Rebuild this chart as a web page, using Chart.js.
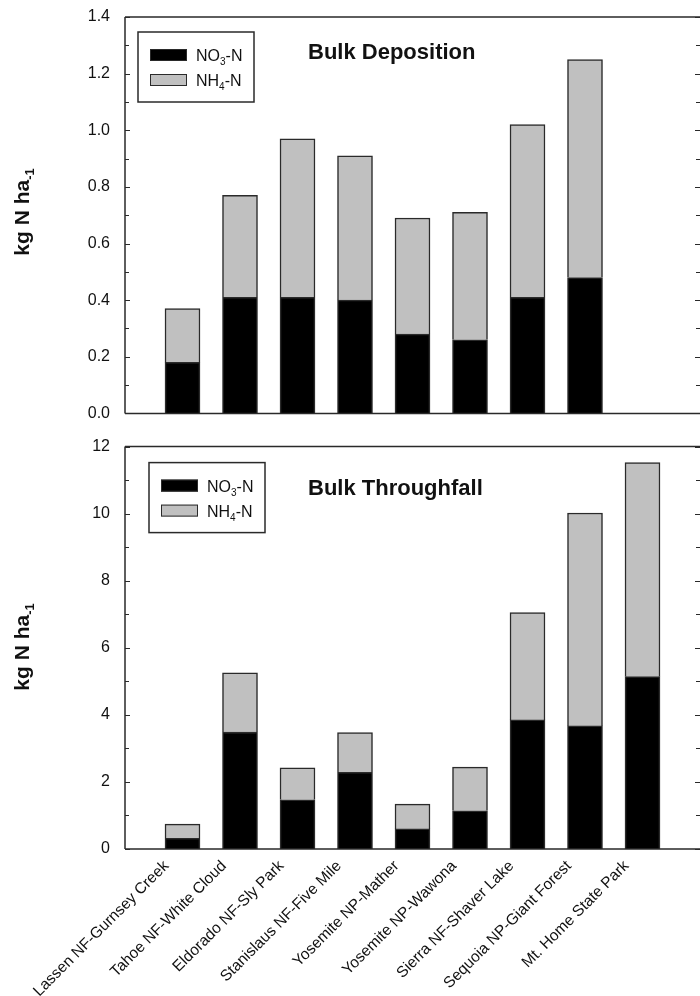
<!DOCTYPE html>
<html>
<head>
<meta charset="utf-8">
<script src="https://cdn.jsdelivr.net/npm/chart.js@4.4.1/dist/chart.umd.min.js"></script>
<style>
  body { margin: 0; background: #fff; }
  canvas { position: absolute; left: 0; }
  #depChart { top: 0; }
  #tfChart { top: 430px; }
</style>
</head>
<body>
<canvas id="depChart" width="700" height="430"></canvas>
<canvas id="tfChart" width="700" height="566"></canvas>
<script>
const sites = [
  "Lassen NF-Gurnsey Creek", "Tahoe NF-White Cloud", "Eldorado NF-Sly Park",
  "Stanislaus NF-Five Mile", "Yosemite NP-Mather", "Yosemite NP-Wawona",
  "Sierra NF-Shaver Lake", "Sequoia NP-Giant Forest", "Mt. Home State Park"
];

// bulk deposition (kg N / ha), no sample at Mt. Home
const depNO3 = [0.18, 0.41, 0.41, 0.40, 0.28, 0.26, 0.41, 0.48, null];
const depNH4 = [0.19, 0.36, 0.56, 0.51, 0.41, 0.45, 0.61, 0.77, null];

// bulk throughfall (kg N / ha)
const tfNO3 = [0.32, 3.49, 1.47, 2.29, 0.60, 1.14, 3.85, 3.67, 5.14];
const tfNH4 = [0.42, 1.76, 0.95, 1.18, 0.74, 1.30, 3.20, 6.35, 6.38];

const depTicks = { min: 0, max: 1.4, step: 0.1 };
const tfTicks = { min: 0, max: 12, step: 1 };

const FONT = "'Liberation Sans', Arial, sans-serif";
const INK = '#111';

// empty slots at both ends so bars sit at 1..9 of a 0..10 axis
const xLabels = ['', ...sites, ''];
const pad = arr => [null, ...arr, null];

// draw text made of runs (normal / subscript)
function drawRuns(ctx, x, y, runs) {
  let cx = x;
  runs.forEach(r => {
    ctx.font = r.font;
    ctx.fillText(r.t, cx, y + (r.dy || 0));
    cx += ctx.measureText(r.t).width;
  });
  return cx - x;
}
function runsWidth(ctx, runs) {
  let w = 0;
  runs.forEach(r => { ctx.font = r.font; w += ctx.measureText(r.t).width; });
  return w;
}

const decorPlugin = {
  id: 'decor',
  afterDraw(chart, args, o) {
    const { ctx, chartArea: a } = chart;
    const y = chart.scales.y;
    ctx.save();

    // frame
    ctx.strokeStyle = '#2a2a2a';
    ctx.lineWidth = 1.5;
    ctx.beginPath();
    ctx.moveTo(a.left, a.top); ctx.lineTo(a.right, a.top);
    ctx.moveTo(a.left, a.top); ctx.lineTo(a.left, a.bottom);
    ctx.moveTo(a.left, a.bottom); ctx.lineTo(a.right, a.bottom);
    ctx.stroke();

    // inward ticks on both sides
    ctx.lineWidth = 1;
    ctx.beginPath();
    y.ticks.forEach(t => {
      const py = Math.round(y.getPixelForValue(t.value)) + 0.5;
      const len = t.label ? 5 : 4;
      ctx.moveTo(a.left, py); ctx.lineTo(a.left + len, py);
      ctx.moveTo(a.right, py); ctx.lineTo(a.right - len, py);
    });
    ctx.stroke();

    // panel title
    ctx.fillStyle = INK;
    ctx.textBaseline = 'alphabetic';
    ctx.textAlign = 'left';
    ctx.font = "bold 22px " + FONT;
    ctx.fillText(o.title, a.left + 183, a.top + o.titleDy);

    // legend
    const bx = a.left + o.legX, by = a.top + o.legY;
    ctx.strokeStyle = '#2a2a2a';
    ctx.lineWidth = 1.5;
    ctx.strokeRect(bx, by, 116, 70);
    const items = [
      { fill: '#000', runs: [{ t: 'NO', font: "16px " + FONT }, { t: '3', font: "10px " + FONT, dy: 4 }, { t: '-N', font: "16px " + FONT }] },
      { fill: '#c0c0c0', runs: [{ t: 'NH', font: "16px " + FONT }, { t: '4', font: "10px " + FONT, dy: 4 }, { t: '-N', font: "16px " + FONT }] }
    ];
    items.forEach((it, i) => {
      const sy = by + 17 + i * 25;
      ctx.fillStyle = it.fill;
      ctx.fillRect(bx + 12, sy, 37, 12);
      ctx.lineWidth = 1;
      ctx.strokeRect(bx + 12.5, sy + 0.5, 36, 11);
      ctx.fillStyle = INK;
      drawRuns(ctx, bx + 58, sy + 12, it.runs);
    });

    // y axis title with subscript
    const yRuns = [
      { t: 'kg N ha', font: "bold 21px " + FONT },
      { t: '-1', font: "bold 13px " + FONT, dy: 5 }
    ];
    ctx.translate(29, o.yTitleY);
    ctx.rotate(-Math.PI / 2);
    const w = runsWidth(ctx, yRuns);
    drawRuns(ctx, -w / 2, 0, yRuns);

    ctx.restore();
  }
};

function makeChart(id, no3, nh4, tk, opts) {
  const isBottom = opts.showX;
  return new Chart(document.getElementById(id), {
    type: 'bar',
    data: {
      labels: xLabels,
      datasets: [
        { label: 'NO3-N', data: pad(no3), backgroundColor: '#000', borderColor: '#2a2a2a', borderWidth: 1.5, barThickness: 35, stack: 's' },
        { label: 'NH4-N', data: pad(nh4), backgroundColor: '#c0c0c0', borderColor: '#2a2a2a', borderWidth: 1.5, barThickness: 35, stack: 's' }
      ]
    },
    options: {
      responsive: false,
      animation: false,
      devicePixelRatio: 1,
      layout: { padding: { top: opts.top, right: 0, left: 0, bottom: 0 } },
      plugins: {
        legend: { display: false },
        tooltip: { enabled: false },
        decor: opts.decor
      },
      scales: {
        x: {
          stacked: true,
          offset: false,
          grid: { display: false },
          border: { display: false },
          ticks: {
            display: isBottom,
            autoSkip: false,
            maxRotation: 45,
            minRotation: 45,
            labelOffset: -16,
            padding: 0,
            color: INK,
            font: { family: FONT, size: 15.5 }
          },
          afterFit: s => {
            s.height = opts.xHeight;
            s.paddingLeft = 0;
            s.paddingRight = 0;
          }
        },
        y: {
          stacked: true,
          min: tk.min,
          max: tk.max,
          grid: { display: false },
          border: { display: false },
          ticks: {
            stepSize: tk.step,
            padding: 7,
            color: INK,
            font: { family: FONT, size: 16 },
            callback: opts.tickFmt
          },
          afterFit: s => { s.width = 125; }
        }
      }
    },
    plugins: [decorPlugin]
  });
}

makeChart('depChart', depNO3, depNH4, depTicks, {
  showX: false,
  top: 17,
  xHeight: 9,
  tickFmt: v => (Math.round(v * 10) % 2 === 0 ? v.toFixed(1) : ''),
  decor: { title: 'Bulk Deposition', titleDy: 42, legX: 13, legY: 15, yTitleY: 212 }
});

makeChart('tfChart', tfNO3, tfNH4, tfTicks, {
  showX: true,
  top: 15,
  xHeight: 147,
  tickFmt: v => (Math.round(v) % 2 === 0 ? String(v) : ''),
  decor: { title: 'Bulk Throughfall', titleDy: 48, legX: 24, legY: 16, yTitleY: 217 }
});
</script>
</body>
</html>
